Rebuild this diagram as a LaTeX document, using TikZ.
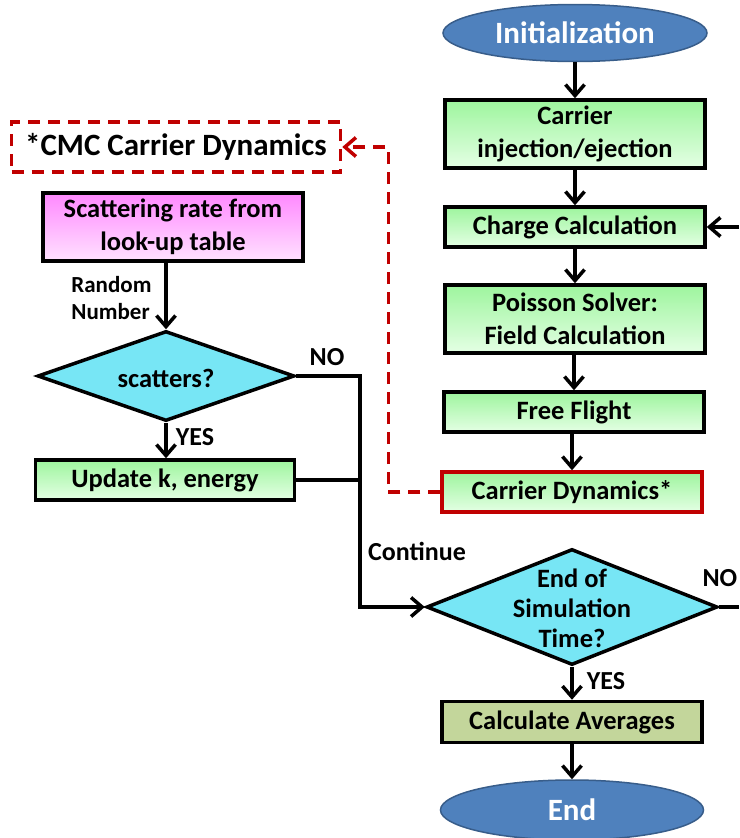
\documentclass[tikz,border=0pt]{standalone}
\usepackage{fontspec}
\setmainfont{Carlito}
\usetikzlibrary{shapes.geometric,arrows.meta}

\definecolor{ovalblue}{HTML}{4F81BD}
\definecolor{ovaledge}{HTML}{385D8A}
\definecolor{gtop}{HTML}{9EF59E}
\definecolor{gbot}{HTML}{E4FFE4}
\definecolor{ptop}{HTML}{FF88FF}
\definecolor{pbot}{HTML}{FFE2FF}
\definecolor{dcyan}{HTML}{77E6F5}
\definecolor{avg}{HTML}{C3D69B}
\definecolor{dred}{HTML}{C00000}

\tikzset{
  oval/.style={ellipse,fill=ovalblue,draw=ovaledge,line width=1.5pt,minimum width=264,minimum height=57,
    text=white,font=\fontsize{31}{34}\selectfont\bfseries},
  stepbox/.style={rectangle,draw=black,line width=3.5pt,top color=gtop,bottom color=gbot,minimum width=260,
    align=center,font=\fontsize{26.5}{33}\selectfont\bfseries},
  decide/.style={diamond,draw=black,line width=3.5pt,fill=dcyan,inner sep=0pt},
  dtext/.style={align=center,font=\fontsize{26.5}{30}\selectfont\bfseries},
  lbl/.style={font=\fontsize{26}{27}\selectfont\bfseries},
  arr/.style={-{Straight Barb[length=11pt,width=19pt,line width=3.5pt]},line width=3.5pt},
  ln/.style={line width=3.5pt},
  reddash/.style={draw=dred,line width=3.5pt,dash pattern=on 12pt off 8pt}
}

\begin{document}
\begin{tikzpicture}[x=1pt,y=-1pt]
\useasboundingbox (0,0) rectangle (739,838);

\node[oval] (init) at (575,33) {Initialization};
\node[stepbox,minimum height=68] (inject) at (575,134) {Carrier\\injection/ejection};
\node[stepbox,minimum height=40] (charge) at (575,227) {Charge Calculation};
\node[stepbox,minimum height=68] (poisson) at (575,319) {Poisson Solver:\\Field Calculation};
\node[stepbox,minimum height=40] (free) at (574,412) {Free Flight};
\node[stepbox,minimum height=40,draw=dred] (dyn) at (572,492) {Carrier Dynamics*};
\node[decide,minimum width=291,minimum height=116] (endsim) at (572,607) {};
\node[dtext] (endtxt) at (572,608) {End of\\Simulation\\Time?};
\node[stepbox,minimum height=41,top color=avg,bottom color=avg] (avgs) at (572,722) {Calculate Averages};
\node[oval,minimum width=263,minimum height=60] (fin) at (572,810) {End};

\node[rectangle,reddash,minimum width=329,minimum height=50,font=\fontsize{31}{34}\selectfont\bfseries] (cmc) at (176,147) {*CMC Carrier Dynamics};
\node[stepbox,minimum height=68,top color=ptop,bottom color=pbot] (rate) at (173,227) {Scattering rate from\\look-up table};
\node[decide,minimum width=257,minimum height=90] (sc) at (166,376) {};
\node[dtext] (sctxt) at (166,378) {scatters?};
\node[stepbox,minimum width=259,minimum height=40] (upd) at (165,480) {Update k, energy};

\node[align=left,anchor=east,font=\fontsize{23}{27}\selectfont\bfseries] (rnd) at (155,298) {Random\\Number};
\node[lbl] (no1) at (327,357) {NO};
\node[lbl] (yes1) at (195,437) {YES};
\node[lbl] (cont) at (417,551) {Continue};
\node[lbl,anchor=west] (no2) at (699,578) {NO};
\node[lbl] (yes2) at (606,681) {YES};

\coordinate (bus) at (360,607);
\coordinate (rin) at (739,227);
\coordinate (rout) at (739,607);

\draw[arr] (init) -- (inject);
\draw[arr] (inject) -- (charge);
\draw[arr] (charge) -- (poisson);
\draw[arr] (poisson.south -| free) -- (free);
\draw[arr] (free.south -| dyn) -- (dyn);
\draw[arr] (rin) -- (charge);
\draw[arr] (endsim) -- (avgs);
\draw[arr] (avgs) -- (fin);
\draw[ln] (endsim.east) -- (rout);
\draw[arr] (rate.south -| sc) -- (sc);
\draw[arr] (sc) -- (sc.south |- upd.north);
\draw[arr] (sc.east) -| (bus) -- (endsim.west);
\draw[ln] (upd.east) -- (upd.east -| bus);
\draw[reddash,arr] (dyn.west) -- ++(-52,0) |- (cmc.east);

\end{tikzpicture}
\end{document}
